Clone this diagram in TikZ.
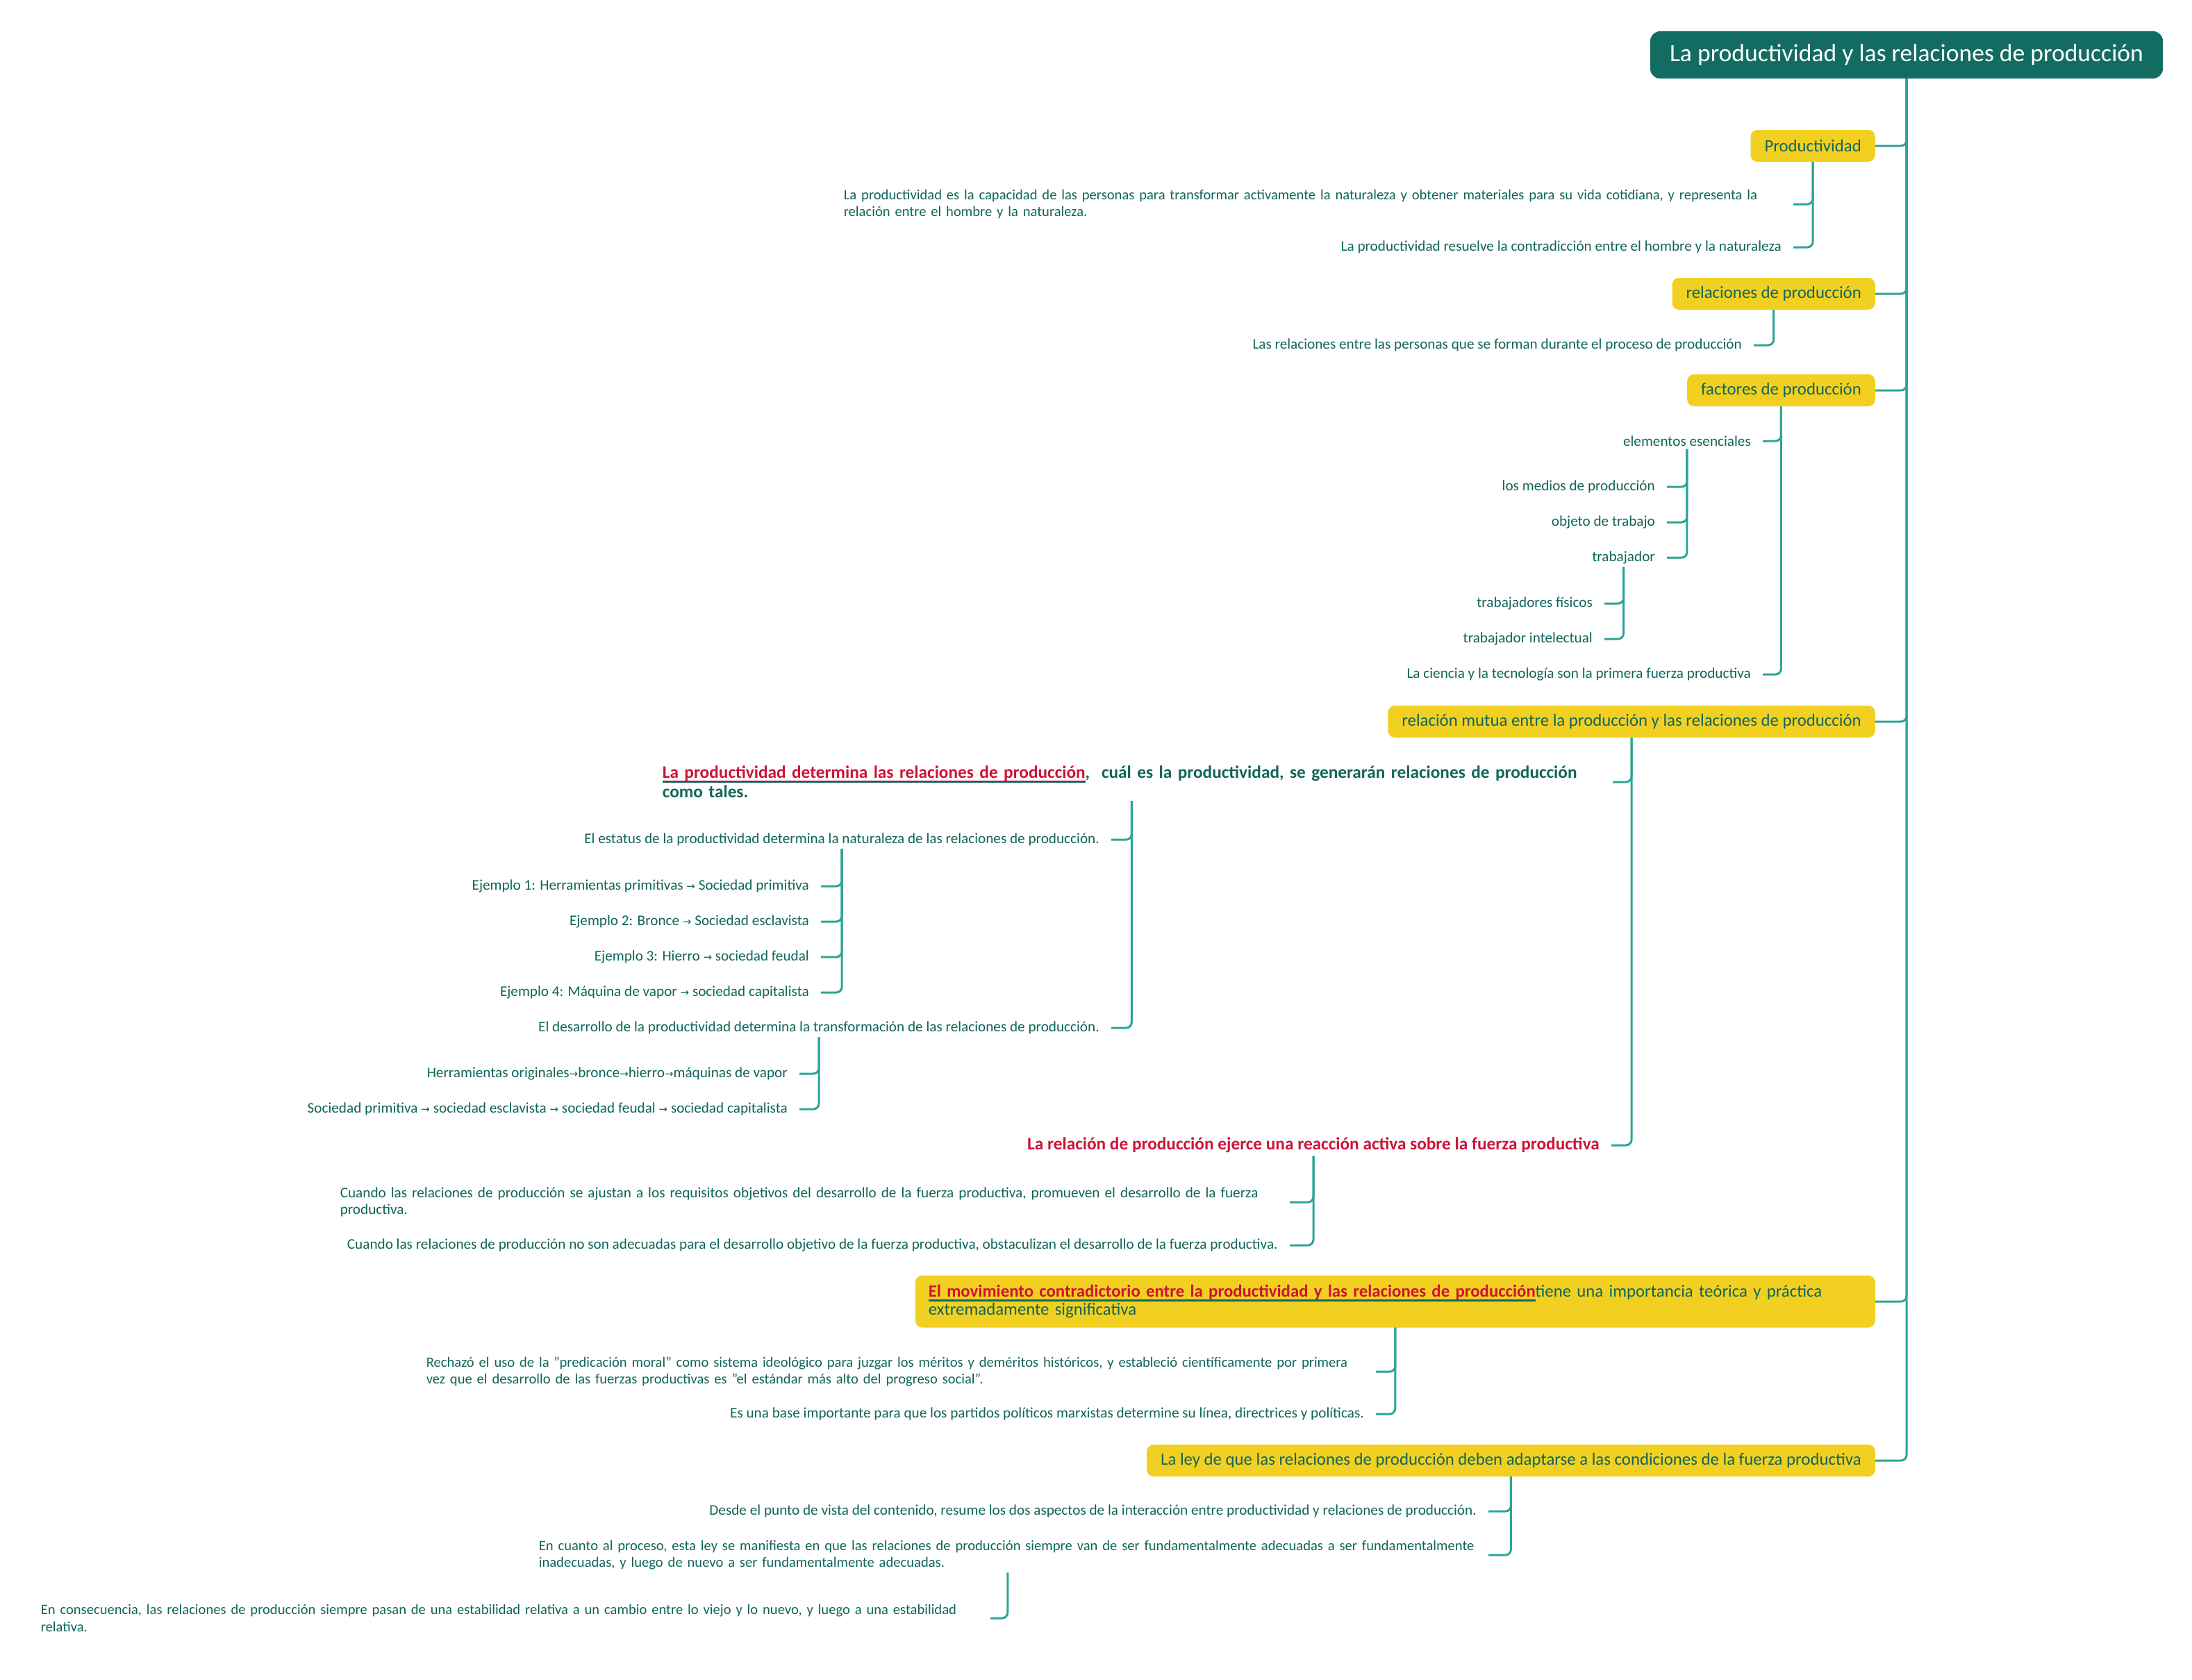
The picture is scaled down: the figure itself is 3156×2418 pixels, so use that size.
\documentclass[tikz,border=0pt]{standalone}
\usepackage{fontspec}
\setmainfont{Carlito}
\newfontfamily\arrfont{DejaVu Sans}
\definecolor{tcol}{HTML}{10665A}
\definecolor{rootcol}{HTML}{136C61}
\definecolor{yel}{HTML}{F2D022}
\definecolor{conncol}{HTML}{2DA596}
\definecolor{redc}{HTML}{CE1236}
\newcommand\ra{{\arrfont\fontsize{15}{15}\selectfont →}}
\newsavebox\ulbox
\newcommand\myul[1]{\sbox\ulbox{#1}\rlap{\raisebox{-4.6pt}[0pt][0pt]{\color{redc}\rule{\wd\ulbox}{1.4pt}}}\rlap{\raisebox{-6.2pt}[0pt][0pt]{\color{tcol}\rule{\wd\ulbox}{1.6pt}}}\usebox\ulbox}
\begin{document}
\begin{tikzpicture}[x=1pt,y=-1pt,
  conn/.style={draw=conncol,line width=3pt,rounded corners=8pt},
  rootbox/.style={fill=rootcol,text=white,rounded corners=14pt,minimum width=738pt,minimum height=68pt,inner sep=0pt,font=\fontsize{35.6}{40}\selectfont},
  ybox/.style={fill=yel,text=tcol,rounded corners=10pt,minimum height=46pt,inner xsep=20pt,inner ysep=4pt,anchor=east,font=\fontsize{24.8}{26}\selectfont},
  txt/.style={text=tcol,inner xsep=17pt,inner ysep=4pt,anchor=east,font=\fontsize{21.2}{24.5}\selectfont},
  txtw/.style={txt,text width=1350pt,align=left},
  txts/.style={txtw,font=\fontsize{20.6}{24.5}\selectfont},
  btxt/.style={text=tcol,inner xsep=17pt,inner ysep=4pt,anchor=east,font=\fontsize{25.3}{28}\selectfont\bfseries}
]
\fill[white] (0,0) rectangle (3156,2418);
\useasboundingbox (0,0) rectangle (3156,2418);

% root
\node[rootbox] (root) at (2745,79) {La productividad y las relaciones de producción};

% level 1
\node[ybox] (prod) at (2700,210) {Productividad};
\node[ybox] (rel) at (2700,423) {relaciones de producción};
\node[ybox] (fac) at (2700,562) {factores de producción};
\node[ybox] (mut) at (2700,1039) {relación mutua entre la producción y las relaciones de producción};
\node[ybox,text width=1344pt,align=left,inner xsep=19pt,minimum height=75pt,font=\fontsize{24.8}{26}\selectfont] (mov) at (2700,1874)
  {{\bfseries\color{redc}\myul{El movimiento contradictorio entre la productividad y las relaciones de producción}}tiene una importancia teórica y práctica\\extremadamente significativa};
\node[ybox] (ley) at (2700,2103) {La ley de que las relaciones de producción deben adaptarse a las condiciones de la fuerza productiva};

\foreach \n in {prod,rel,fac,mut,mov,ley} \draw[conn] (root.south) |- (\n.east);

% Productividad
\node[txts] (p1) at (2582,294) {La productividad es la capacidad de las personas para transformar activamente la naturaleza y obtener materiales para su vida cotidiana, y representa la\\relación entre el hombre y la naturaleza.};
\node[txt] (p2) at (2582,356) {La productividad resuelve la contradicción entre el hombre y la naturaleza};
\foreach \n in {p1,p2} \draw[conn] (prod.south) |- (\n.east);

% relaciones
\node[txt] (r1) at (2525,497) {Las relaciones entre las personas que se forman durante el proceso de producción};
\draw[conn] (rel.south) |- (r1.east);

% factores
\node[txt] (f1) at (2538,635) {elementos esenciales};
\node[txt] (e1) at (2400,701) {los medios de producción};
\node[txt] (e2) at (2400,752) {objeto de trabajo};
\node[txt] (e3) at (2400,803) {trabajador};
\node[txt] (t1) at (2310,869) {trabajadores físicos};
\node[txt] (t2) at (2310,920) {trabajador intelectual};
\node[txt] (f2) at (2538,971) {La ciencia y la tecnología son la primera fuerza productiva};
\foreach \n in {f1,f2} \draw[conn] (fac.south) |- (\n.east);
\foreach \n in {e1,e2,e3} \draw[conn] (f1.south) |- (\n.east);
\foreach \n in {t1,t2} \draw[conn] (e3.south) |- (\n.east);

% relacion mutua
\node[btxt,text width=1351pt,align=left] (m1) at (2322,1126)
  {{\color{redc}\myul{La productividad determina las relaciones de producción}},~ cuál es la productividad, se generarán relaciones de producción\\como tales.};
\node[btxt,text=redc] (m2) at (2320,1649) {La relación de producción ejerce una reacción activa sobre la fuerza productiva};
\foreach \n in {m1,m2} \draw[conn] (mut.south) |- (\n.east);

\node[txt] (s1) at (1600,1209) {El estatus de la productividad determina la naturaleza de las relaciones de producción.};
\node[txt] (x1) at (1182,1276) {Ejemplo 1: Herramientas primitivas \ra{} Sociedad primitiva};
\node[txt] (x2) at (1182,1327) {Ejemplo 2: Bronce \ra{} Sociedad esclavista};
\node[txt] (x3) at (1182,1378) {Ejemplo 3: Hierro \ra{} sociedad feudal};
\node[txt] (x4) at (1182,1429) {Ejemplo 4: Máquina de vapor \ra{} sociedad capitalista};
\node[txt] (s2) at (1600,1480) {El desarrollo de la productividad determina la transformación de las relaciones de producción.};
\node[txt] (d1) at (1151,1546) {Herramientas originales\ra{}bronce\ra{}hierro\ra{}máquinas de vapor};
\node[txt] (d2) at (1151,1597) {Sociedad primitiva \ra{} sociedad esclavista \ra{} sociedad feudal \ra{} sociedad capitalista};
\foreach \n in {s1,s2} \draw[conn] (m1.south) |- (\n.east);
\foreach \n in {x1,x2,x3,x4} \draw[conn] (s1.south) |- (\n.east);
\foreach \n in {d1,d2} \draw[conn] (s2.south) |- (\n.east);

\node[txtw] (c1) at (1857,1731) {Cuando las relaciones de producción se ajustan a los requisitos objetivos del desarrollo de la fuerza productiva, promueven el desarrollo de la fuerza\\productiva.};
\node[txt] (c2) at (1857,1793) {Cuando las relaciones de producción no son adecuadas para el desarrollo objetivo de la fuerza productiva, obstaculizan el desarrollo de la fuerza productiva.};
\foreach \n in {c1,c2} \draw[conn] (m2.south) |- (\n.east);

% movimiento
\node[txts] (v1) at (1981,1975) {Rechazó el uso de la "predicación moral" como sistema ideológico para juzgar los méritos y deméritos históricos, y estableció científicamente por primera\\vez que el desarrollo de las fuerzas productivas es "el estándar más alto del progreso social".};
\node[txt] (v2) at (1981,2036) {Es una base importante para que los partidos políticos marxistas determine su línea, directrices y políticas.};
\foreach \n in {v1,v2} \draw[conn] (mov.south) |- (\n.east);

% ley
\node[txt] (l1) at (2143,2176) {Desde el punto de vista del contenido, resume los dos aspectos de la interacción entre productividad y relaciones de producción.};
\node[txts] (l2) at (2143,2239) {En cuanto al proceso, esta ley se manifiesta en que las relaciones de producción siempre van de ser fundamentalmente adecuadas a ser fundamentalmente\\inadecuadas, y luego de nuevo a ser fundamentalmente adecuadas.};
\node[txts] (l3) at (1426,2330) {En consecuencia, las relaciones de producción siempre pasan de una estabilidad relativa a un cambio entre lo viejo y lo nuevo, y luego a una estabilidad\\relativa.};
\foreach \n in {l1,l2} \draw[conn] (ley.south) |- (\n.east);
\draw[conn] (l2.south) |- (l3.east);
\end{tikzpicture}
\end{document}
